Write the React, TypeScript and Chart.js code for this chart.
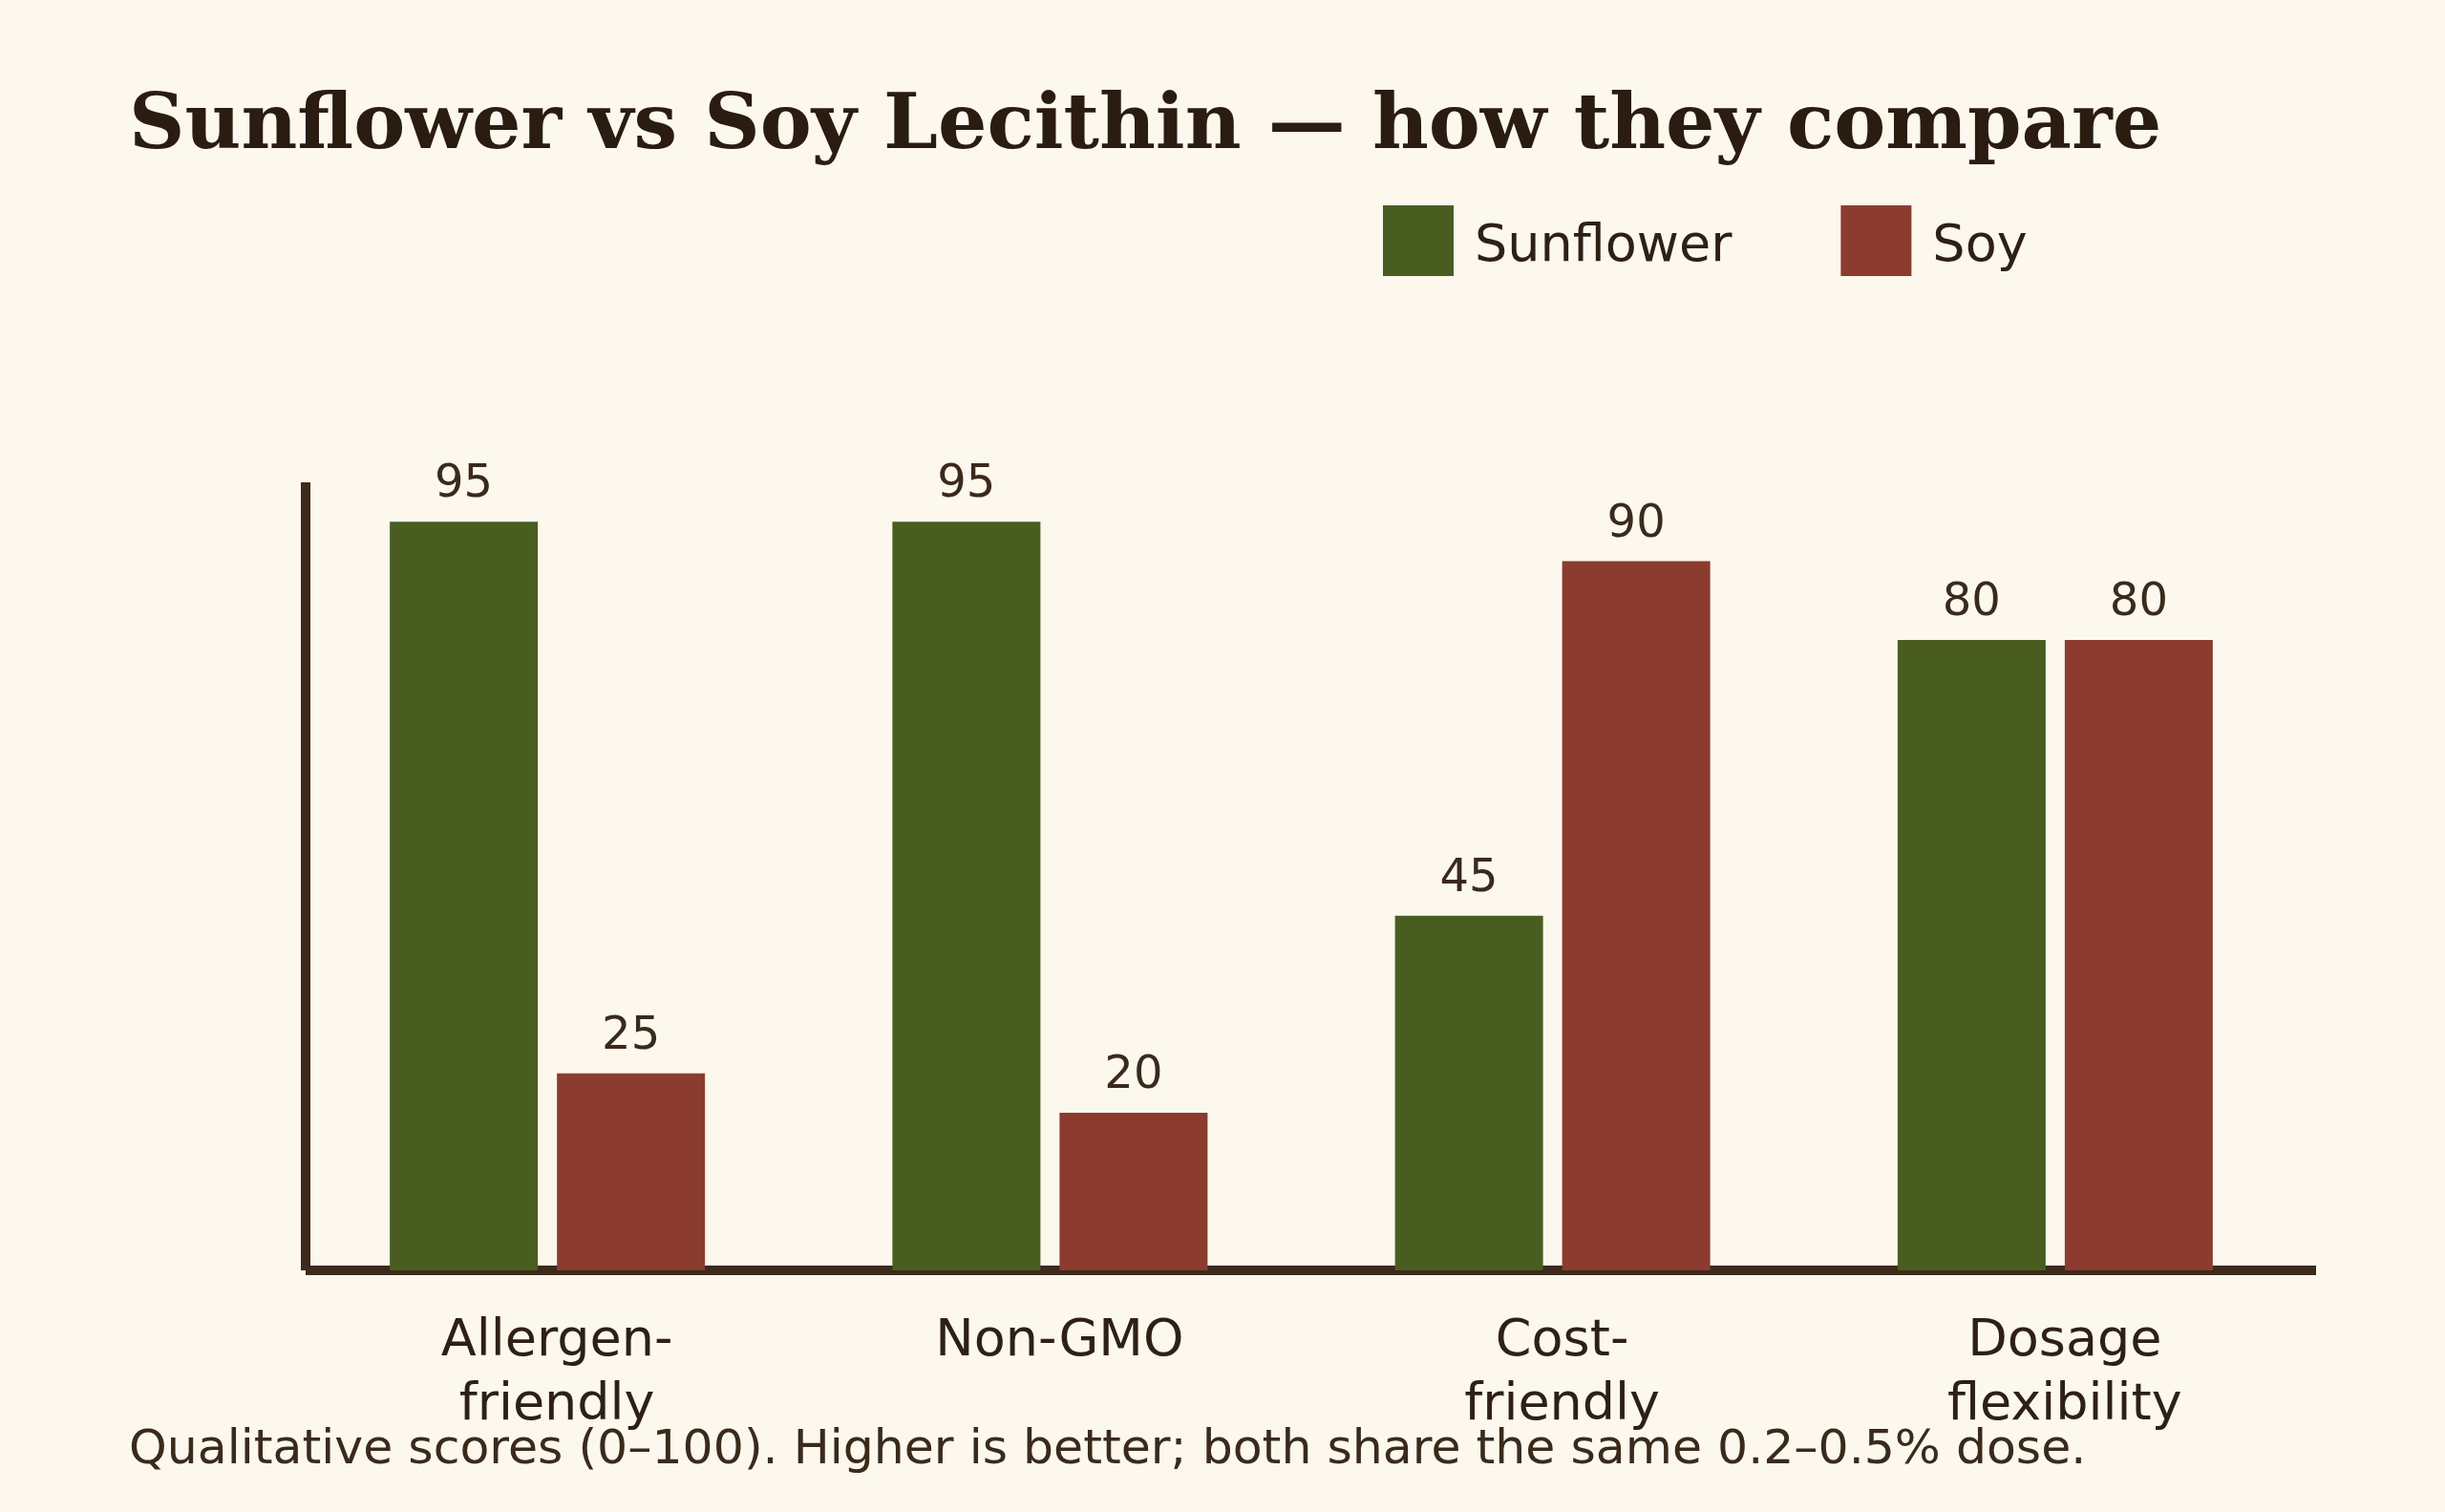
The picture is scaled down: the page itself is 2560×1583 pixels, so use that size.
import React, { useEffect, useRef } from "react";
import { Chart, registerables } from "chart.js";

Chart.register(...registerables);

const TITLE = "Sunflower vs Soy Lecithin — how they compare";
const FOOTNOTE = "Qualitative scores (0–100). Higher is better; both share the same 0.2–0.5% dose.";
const CATEGORIES: string[][] = [["Allergen-", "friendly"], ["Non-GMO"], ["Cost-", "friendly"], ["Dosage", "flexibility"]];
const SERIES_NAMES = ["Sunflower", "Soy"];
const SUNFLOWER = [95, 95, 45, 80];
const SOY = [25, 20, 90, 80];
const Y_MIN = 0;
const Y_MAX = 100;

const W = 2560;
const H = 1583;
const BG = "#FCF8EE";
const GREEN = "#4A5D20";
const RED = "#8B3C2F";
const TITLE_COLOR = "#2A1C10";
const TEXT_COLOR = "#2E2014";
const LABEL_COLOR = "#3A2A1C";
const AXIS_COLOR = "#3D2A1A";
const SANS = "'DejaVu Sans', sans-serif";
const SERIF = "'DejaVu Serif', serif";

const decorPlugin = {
  id: "decor",
  beforeDraw(chart: any) {
    const ctx = chart.ctx;
    ctx.save();
    ctx.fillStyle = BG;
    ctx.fillRect(0, 0, chart.width, chart.height);
    ctx.restore();
  },
  beforeDatasetsDraw(chart: any) {
    const { ctx, chartArea } = chart;
    const { left, right, top, bottom } = chartArea;
    ctx.save();
    ctx.fillStyle = AXIS_COLOR;
    ctx.fillRect(left + 5, top, 10, bottom - top);
    ctx.fillRect(left + 10, bottom - 5, right - left, 10);
    ctx.restore();
  },
  afterDatasetsDraw(chart: any) {
    const ctx = chart.ctx;
    ctx.save();
    ctx.font = `48px ${SANS}`;
    ctx.fillStyle = LABEL_COLOR;
    ctx.textAlign = "center";
    ctx.textBaseline = "alphabetic";
    chart.data.datasets.forEach((ds: any, i: number) => {
      const meta = chart.getDatasetMeta(i);
      meta.data.forEach((el: any, j: number) => {
        ctx.fillText(String(ds.data[j]), el.x, el.y - 26);
      });
    });
    ctx.restore();
  },
  afterDraw(chart: any) {
    const ctx = chart.ctx;
    ctx.save();
    // title
    ctx.font = `bold 81px ${SERIF}`;
    ctx.fillStyle = TITLE_COLOR;
    ctx.textAlign = "left";
    ctx.textBaseline = "alphabetic";
    ctx.fillText(TITLE, 135, 155);
    // legend
    ctx.font = `54px ${SANS}`;
    let x = 1448;
    chart.data.datasets.forEach((ds: any) => {
      ctx.fillStyle = ds.backgroundColor;
      ctx.fillRect(x, 215, 74, 74);
      ctx.fillStyle = TEXT_COLOR;
      ctx.fillText(ds.label, x + 96, 273);
      x += 96 + ctx.measureText(ds.label).width + 114;
    });
    // footnote
    ctx.font = `50.5px ${SANS}`;
    ctx.fillStyle = LABEL_COLOR;
    ctx.fillText(FOOTNOTE, 135, 1532);
    ctx.restore();
  },
};

export default function App() {
  const ref = useRef<HTMLCanvasElement | null>(null);

  useEffect(() => {
    document.body.style.margin = "0";
    document.body.style.background = BG;
    const canvas = ref.current;
    if (!canvas) return;
    const chart = new Chart(canvas, {
      type: "bar",
      data: {
        labels: CATEGORIES,
        datasets: [
          {
            label: SERIES_NAMES[0],
            data: SUNFLOWER,
            backgroundColor: GREEN,
            borderWidth: 0,
            categoryPercentage: 0.6651,
            barPercentage: 0.8857,
          },
          {
            label: SERIES_NAMES[1],
            data: SOY,
            backgroundColor: RED,
            borderWidth: 0,
            categoryPercentage: 0.6651,
            barPercentage: 0.8857,
          },
        ],
      },
      options: {
        responsive: false,
        maintainAspectRatio: false,
        animation: false,
        devicePixelRatio: 1,
        layout: { padding: { top: 505, left: 310, right: 145, bottom: 0 } },
        scales: {
          x: {
            grid: { display: false, drawTicks: false },
            border: { display: false },
            ticks: {
              font: { family: SANS, size: 54, lineHeight: 67 / 54 },
              color: TEXT_COLOR,
              padding: 41,
              labelOffset: 10,
              maxRotation: 0,
              autoSkip: false,
            },
            afterFit: (scale: any) => {
              scale.height = 253;
            },
          },
          y: {
            display: false,
            min: Y_MIN,
            max: Y_MAX,
          },
        },
        plugins: {
          legend: { display: false },
          title: { display: false },
          tooltip: { enabled: false },
        },
      },
      plugins: [decorPlugin],
    } as any);
    return () => chart.destroy();
  }, []);

  return (
    <div style={{ width: W, height: H, background: BG }}>
      <canvas ref={ref} width={W} height={H} style={{ display: "block", width: W, height: H }} />
    </div>
  );
}
